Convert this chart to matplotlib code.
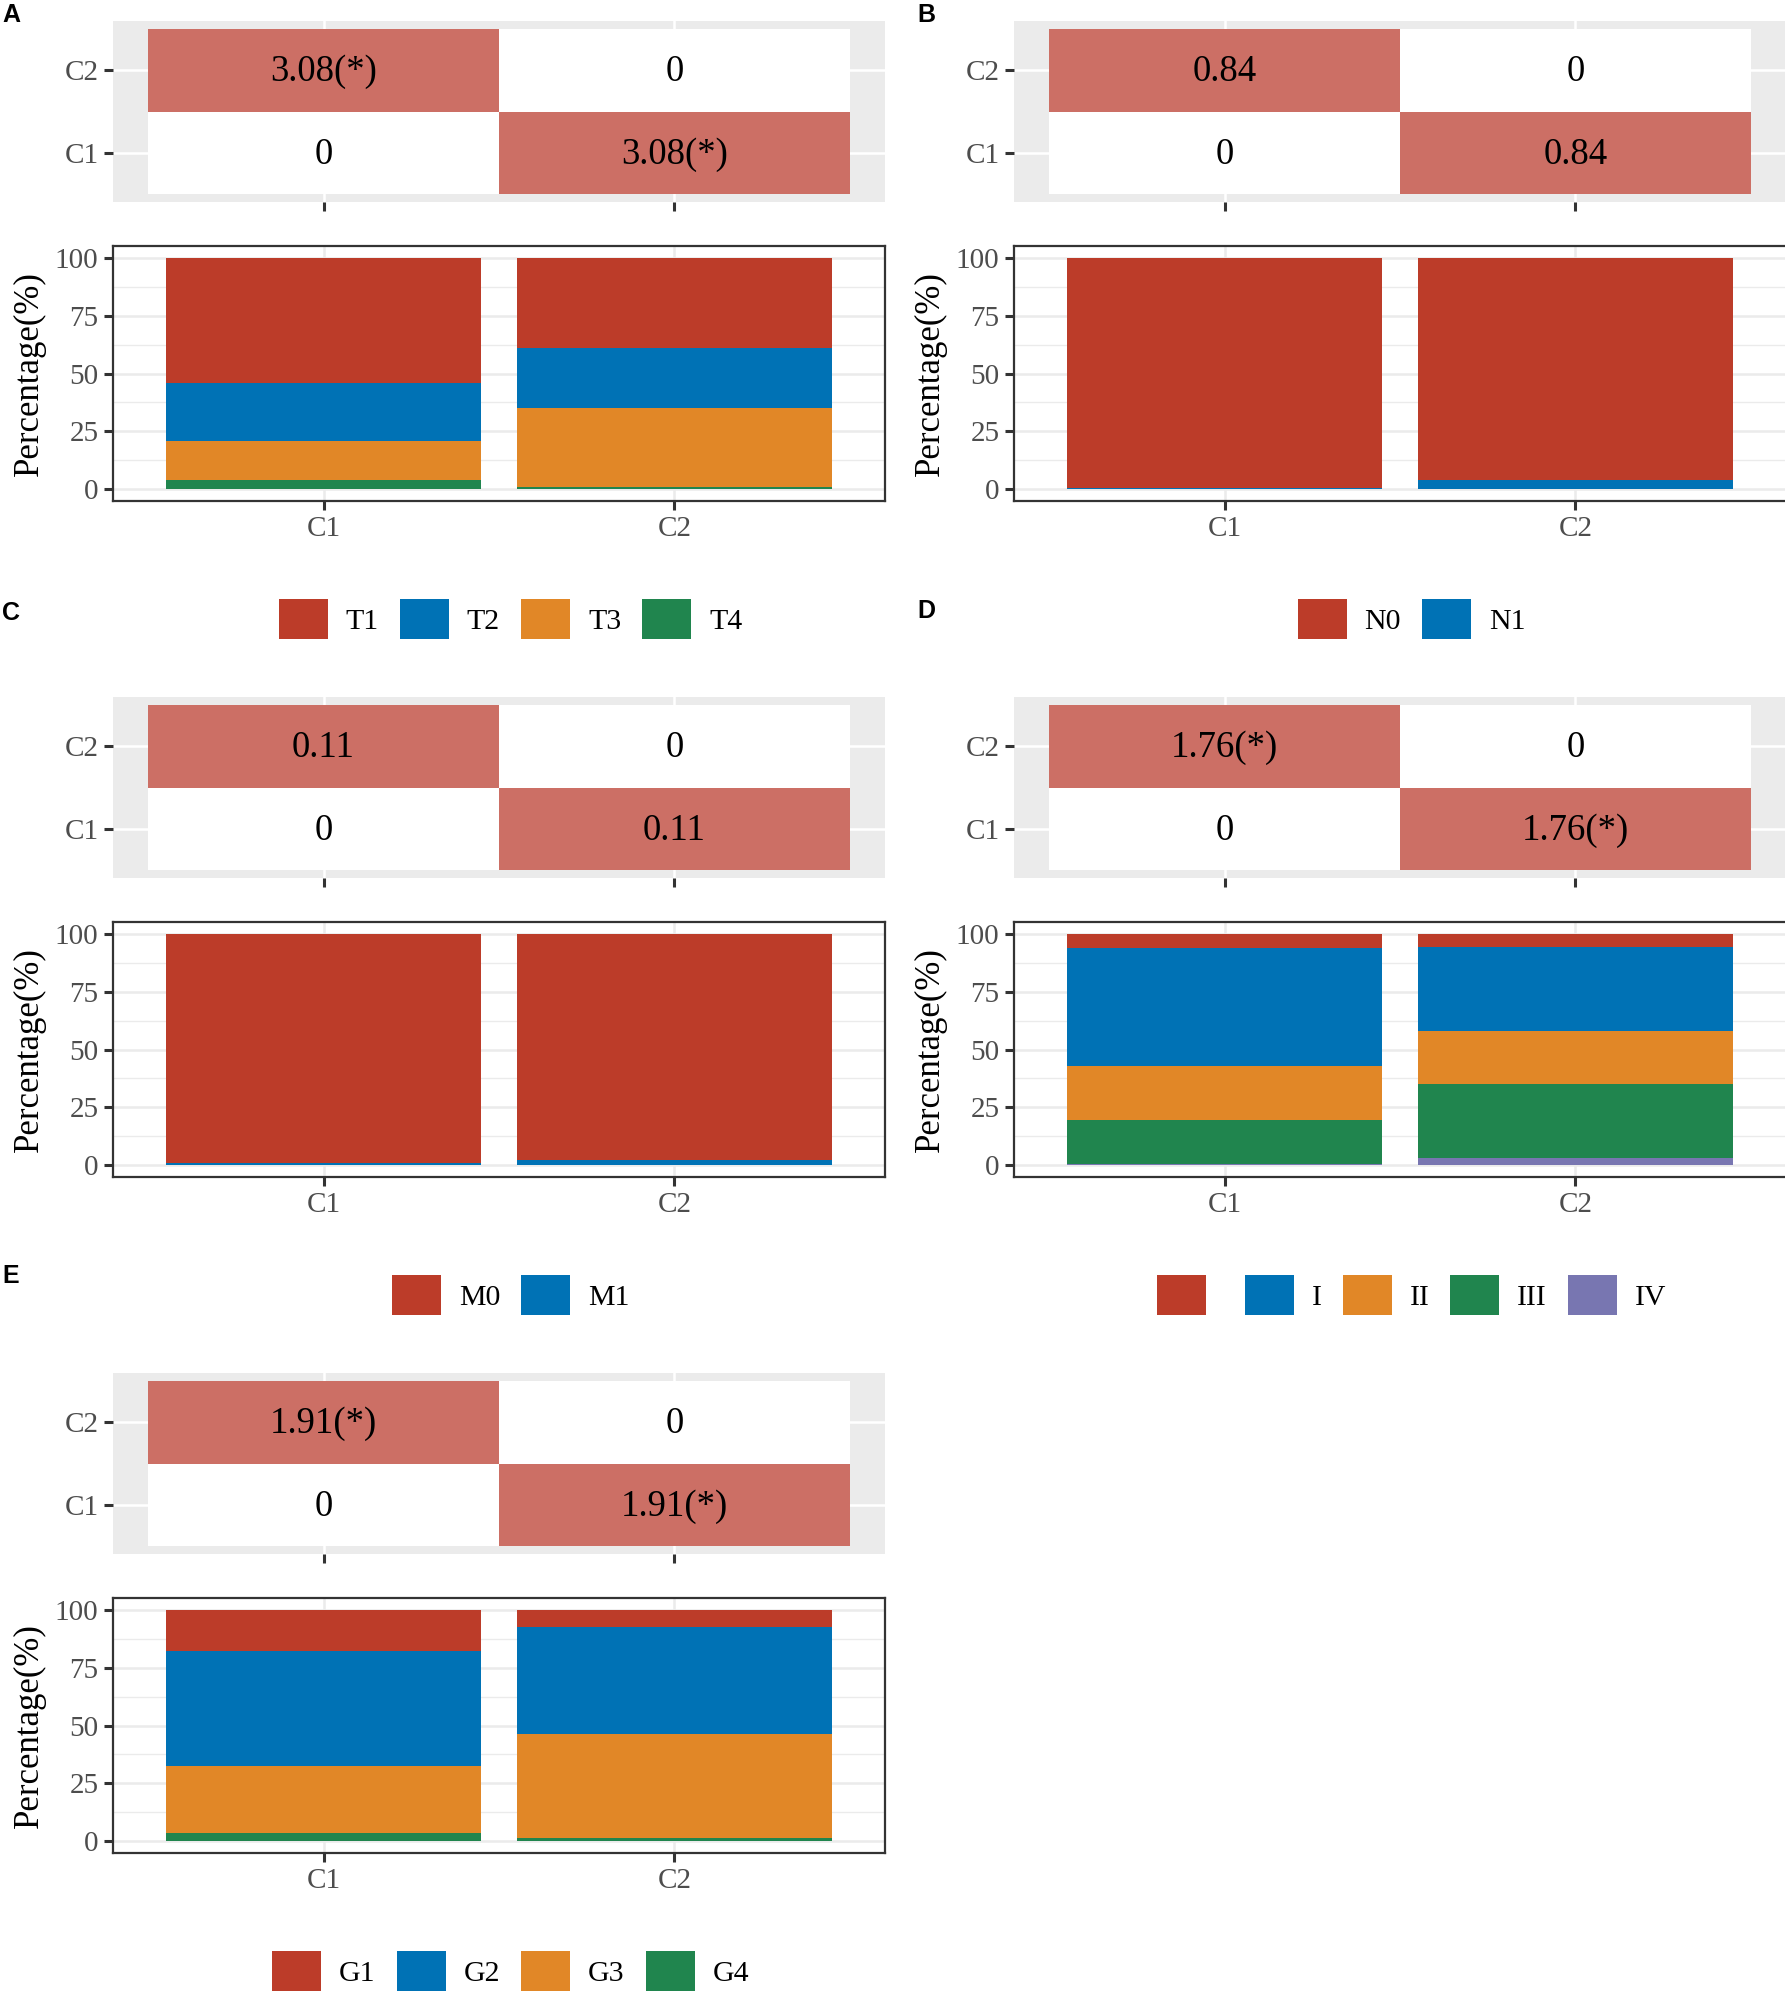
import matplotlib
matplotlib.use("Agg")
import matplotlib.pyplot as plt
from matplotlib.patches import Patch
from matplotlib.ticker import FixedLocator

plt.rcParams['font.family'] = ['Liberation Serif', 'DejaVu Serif']

# ---- data ----
clusters = ['C1', 'C2']

# heatmap statistic shown off-diagonal (diagonal is 0)
stat_a = '3.08(*)'
stat_b = '0.84'
stat_c = '0.11'
stat_d = '1.76(*)'
stat_e = '1.91(*)'

# stacked percentages, first level sits on top
t_levels = ['T1', 'T2', 'T3', 'T4']
t_c1 = [53.9, 25.3, 16.8, 4.0]
t_c2 = [39.1, 25.8, 34.2, 0.9]

n_levels = ['N0', 'N1']
n_c1 = [99.3, 0.7]
n_c2 = [96.1, 3.9]

m_levels = ['M0', 'M1']
m_c1 = [99.0, 1.0]
m_c2 = [97.5, 2.5]

s_levels = ['', 'I', 'II', 'III', 'IV']
s_c1 = [6.4, 50.6, 23.6, 18.9, 0.5]
s_c2 = [5.7, 36.3, 22.9, 32.0, 3.1]

g_levels = ['G1', 'G2', 'G3', 'G4']
g_c1 = [17.7, 49.8, 28.9, 3.6]
g_c2 = [7.7, 46.1, 44.6, 1.6]

nejm = ['#BC3C29', '#0072B5', '#E18727', '#20854E', '#7876B1']
tile_red = '#CC6F65'

W, H = 1785, 1998
fig = plt.figure(figsize=(W / 100, H / 100), dpi=100)


def add_ax(x, top, w, h):
    return fig.add_axes([x / W, 1 - (top + h) / H, w / W, h / H])


def style_ticks(ax):
    ax.tick_params(axis='both', which='major', length=6.5, width=2.2,
                   color='#333333', labelcolor='#4D4D4D', labelsize=21, pad=4)


def draw_heat(ax, stat):
    ax.set_facecolor('#EBEBEB')
    for s in ax.spines.values():
        s.set_visible(False)
    pos = [1, 2]
    for i, cx in enumerate(clusters):
        for j, cy in enumerate(clusters):
            txt = '0' if i == j else stat
            col = 'white' if i == j else tile_red
            ax.bar(pos[i], 1, width=1, bottom=pos[j] - 0.5, color=col,
                   linewidth=0, zorder=2)
            ax.text(pos[i], pos[j] - 0.02, txt, ha='center', va='center',
                    fontsize=26.5, color='black', zorder=3)
    ax.set_xlim(0.4, 2.6)
    ax.set_ylim(0.4, 2.6)
    ax.set_xticks(pos)
    ax.set_xticklabels([])
    ax.set_yticks(pos)
    ax.set_yticklabels(clusters)
    ax.grid(True, color='white', linewidth=1.8, zorder=1)
    ax.set_axisbelow(True)
    style_ticks(ax)


def draw_bars(ax, levels, c1, c2, y_leg):
    pos = [1, 2]
    for k, vals in enumerate([c1, c2]):
        bottom = 0
        for lev in range(len(levels) - 1, -1, -1):
            ax.bar(pos[k], vals[lev], width=0.9, bottom=bottom,
                   color=nejm[lev], linewidth=0, zorder=2)
            bottom += vals[lev]
    ax.set_xlim(0.4, 2.6)
    ax.set_ylim(-5, 105)
    ax.set_xticks(pos)
    ax.set_xticklabels(clusters)
    ax.set_yticks([0, 25, 50, 75, 100])
    ax.yaxis.set_minor_locator(FixedLocator([12.5, 37.5, 62.5, 87.5]))
    ax.tick_params(axis='y', which='minor', length=0)
    ax.grid(True, which='major', color='#EBEBEB', linewidth=1.8, zorder=0)
    ax.grid(True, which='minor', axis='y', color='#EBEBEB', linewidth=1.0, zorder=0)
    ax.set_axisbelow(True)
    for s in ax.spines.values():
        s.set_color('#333333')
        s.set_linewidth(1.6)
    style_ticks(ax)
    ax.set_ylabel('Percentage(%)', fontsize=25, color='black')
    ax.yaxis.set_label_coords(-0.087, 0.5)

    fs = 21.5
    fpx = fs * 100 / 72
    handles = [Patch(facecolor=nejm[i], edgecolor='none') for i in range(len(levels))]
    ax.legend(handles, levels, loc='center', bbox_to_anchor=(0.515, y_leg),
              ncol=len(levels), frameon=False, fontsize=fs,
              handlelength=49 / fpx, handleheight=49 / fpx,
              handletextpad=18 / fpx, columnspacing=21 / fpx,
              borderaxespad=0, borderpad=0)


col_x = [113, 1014]
row_y = [0, 676, 1352]
heat_top, heat_h = 21, 181
bar_top, bar_h = 246, 255
ax_w = 772
leg_y = (bar_top + bar_h - 619) / bar_h

panels = [
    ('A', 0, 0, stat_a, t_levels, t_c1, t_c2),
    ('B', 1, 0, stat_b, n_levels, n_c1, n_c2),
    ('C', 0, 1, stat_c, m_levels, m_c1, m_c2),
    ('D', 1, 1, stat_d, s_levels, s_c1, s_c2),
    ('E', 0, 2, stat_e, g_levels, g_c1, g_c2),
]

for tag, ci, ri, stat, levels, c1, c2 in panels:
    x0 = col_x[ci]
    y0 = row_y[ri]
    hax = add_ax(x0, y0 + heat_top, ax_w, heat_h)
    draw_heat(hax, stat)
    bax = add_ax(x0, y0 + bar_top, ax_w, bar_h)
    draw_bars(bax, levels, c1, c2, leg_y)

label_pos = {'A': (2, 15), 'B': (917, 15), 'C': (2, 613), 'D': (917, 611), 'E': (2, 1276)}
for tag, (lx, ly) in label_pos.items():
    fig.text(lx / W, 1 - ly / H, tag, ha='left', va='center', fontsize=18,
             fontweight='bold', family=['Liberation Sans', 'DejaVu Sans'])

fig.savefig('out.png', dpi=100, facecolor='white')
